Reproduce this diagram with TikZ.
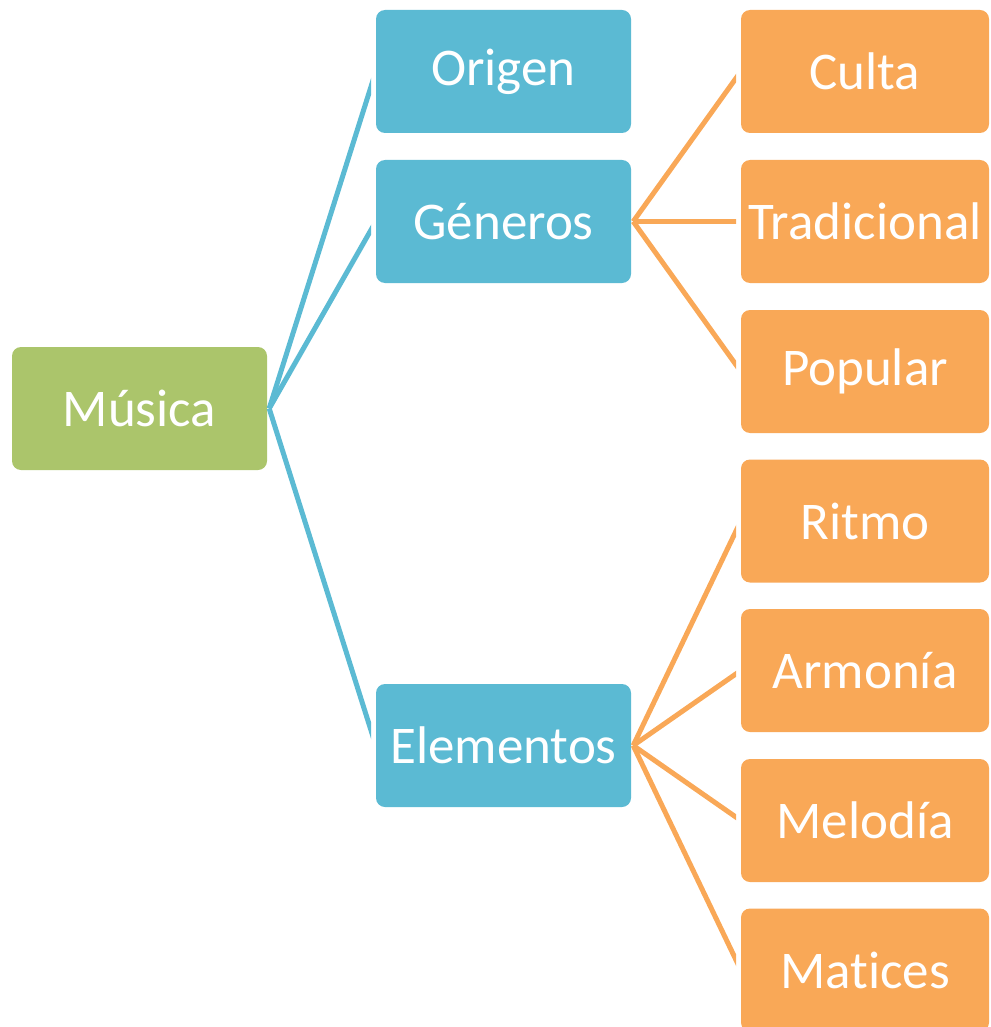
\documentclass[tikz,border=0pt]{standalone}
\usepackage{fontspec}
\setmainfont{Carlito}[Ligatures=NoCommon]
\usetikzlibrary{calc}
\definecolor{cgreen}{HTML}{ABC56B}
\definecolor{cblue}{HTML}{5BBAD3}
\definecolor{corange}{HTML}{F9A857}
\begin{document}
\begin{tikzpicture}[x=1pt,y=-1pt,
  box/.style={rounded corners=9pt, minimum width=#1, minimum height=123pt, inner sep=0pt, text=white,
    font=\fontsize{53}{55}\selectfont},
  greenbox/.style={box=255pt, fill=cgreen},
  bluebox/.style={box=255pt, fill=cblue},
  orangebox/.style={box=248pt, fill=corange},
  bline/.style={draw=cblue, line width=5pt},
  oline/.style={draw=corange, line width=5pt}]
\useasboundingbox (0,0) rectangle (990,1027);
\node[greenbox] (musica) at (139.5,408.5) {Música};
\node[bluebox] (origen) at (503.5,71.5) {Origen};
\node[bluebox] (generos) at (503.5,221.5) {Géneros};
\node[bluebox] (elementos) at (503.5,745.5) {Elementos};
\node[orangebox] (culta) at (865,71.5) {Culta};
\node[orangebox] (tradicional) at (865,221.5) {Tradicional};
\node[orangebox] (popular) at (865,371.5) {Popular};
\node[orangebox] (ritmo) at (865,521) {Ritmo};
\node[orangebox] (armonia) at (865,670.5) {Armonía};
\node[orangebox] (melodia) at (865,820.5) {Melodía};
\node[orangebox] (matices) at (865,970) {Matices};
\coordinate (mo) at ($(musica.east)+(2,0)$);
\coordinate (go) at ($(generos.east)+(2,0)$);
\coordinate (eo) at ($(elementos.east)+(2,0)$);
\begin{scope}
\clip (0,0) rectangle (371,1027);
\draw[bline] (mo) -- (origen.west);
\draw[bline] (mo) -- (generos.west);
\draw[bline] (mo) -- (elementos.west);
\end{scope}
\begin{scope}
\clip (0,0) rectangle (736,1027);
\draw[oline] (go) -- (culta.west);
\draw[oline] (go) -- (tradicional.west);
\draw[oline] (go) -- (popular.west);
\draw[oline] (eo) -- (ritmo.west);
\draw[oline] (eo) -- (armonia.west);
\draw[oline] (eo) -- (melodia.west);
\draw[oline] (eo) -- (matices.west);
\end{scope}
\end{tikzpicture}
\end{document}
